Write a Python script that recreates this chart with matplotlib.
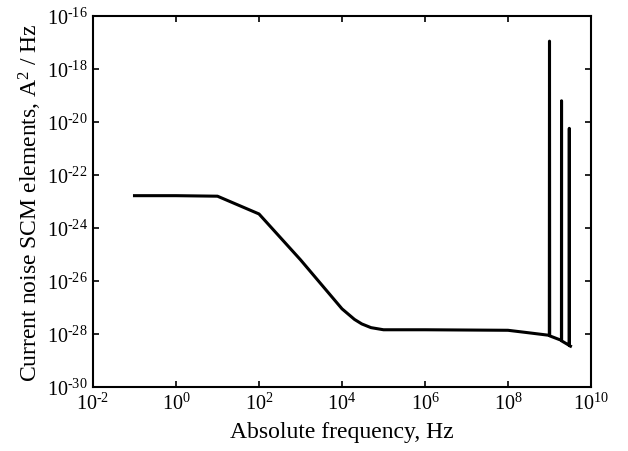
import numpy as np
import matplotlib
matplotlib.use("Agg")
import matplotlib.pyplot as plt
from matplotlib.ticker import LogLocator, FuncFormatter, NullLocator

plt.rcParams['font.family'] = 'Liberation Serif'
plt.rcParams['mathtext.fontset'] = 'custom'
plt.rcParams['mathtext.rm'] = 'Liberation Serif'
plt.rcParams['mathtext.it'] = 'Liberation Serif:italic'

# frequencies (Hz) and log10 of the SCM element (A^2/Hz)
freq = [1e-1, 1e0, 1e1, 1e2, 1e3, 1e4, 2e4, 3e4, 5e4, 1e5, 1e6, 1e7, 1e8, 3e8,
        0.99e9, 1.0e9, 1.01e9, 1.94e9, 1.95e9, 1.96e9, 2.99e9, 3.0e9, 3.01e9, 3.2e9]
log_psd = [-22.78, -22.78, -22.80, -23.47, -25.2, -27.05, -27.45, -27.62, -27.76,
           -27.84, -27.84, -27.85, -27.86, -27.95,
           -28.05, -16.95, -28.07, -28.24, -19.2, -28.26, -28.43, -20.24, -28.44, -28.46]

psd = 10.0 ** np.array(log_psd)


def pow10(v, pos):
    e = int(round(np.log10(v)))
    s = str(e).replace('-', '\u2010')
    return r'$\mathregular{10^{%s}}$' % s


fig = plt.figure(figsize=(6.28, 4.52), dpi=100)
ax = fig.add_axes([93 / 628, 1 - 388 / 452, 498 / 628, 371 / 452])

ax.plot(freq, psd, color='black', lw=2.2)

ax.set_xscale('log')
ax.set_yscale('log')
ax.set_xlim(1e-2, 1e10)
ax.set_ylim(1e-30, 1e-16)

ax.xaxis.set_major_locator(LogLocator(base=100.0, numticks=20))
ax.yaxis.set_major_locator(LogLocator(base=100.0, numticks=20))
ax.xaxis.set_major_formatter(FuncFormatter(pow10))
ax.yaxis.set_major_formatter(FuncFormatter(pow10))
ax.xaxis.set_minor_locator(NullLocator())
ax.yaxis.set_minor_locator(NullLocator())

ax.tick_params(direction='in', length=4.5, width=1.2, top=True, right=True,
               labelsize=14.5, pad=4)
for s in ax.spines.values():
    s.set_linewidth(1.5)

ax.set_xlabel('Absolute frequency, Hz', fontsize=17, labelpad=5)
ax.set_ylabel('Current noise SCM elements, A$^2$ / Hz', fontsize=17, labelpad=2)

fig.savefig('out.png', dpi=100)
